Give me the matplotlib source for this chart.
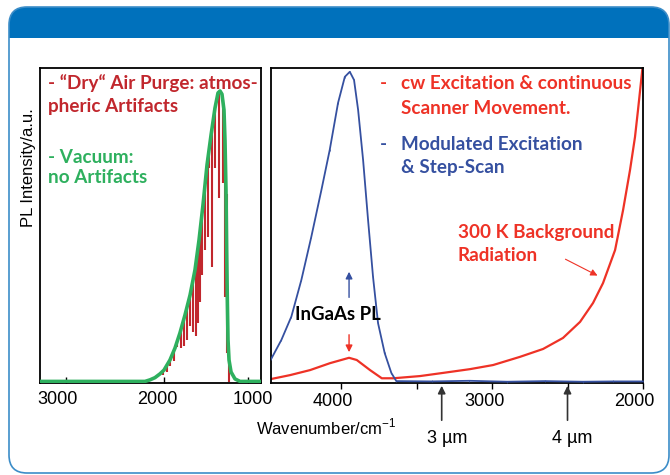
import numpy as np
import matplotlib
matplotlib.use("Agg")
import matplotlib.pyplot as plt
from matplotlib.patches import FancyBboxPatch, Rectangle
from matplotlib.transforms import IdentityTransform, ScaledTranslation

# ---- left panel: dry-air purge vs vacuum (wavenumber in cm-1) ----
vac_wn = [3265, 2194, 2143, 2092, 2041, 2000, 1929, 1869, 1810, 1750, 1690, 1631,
          1583, 1536, 1488, 1440, 1393, 1357, 1333, 1310, 1286, 1274, 1262, 1254,
          1246, 1238, 1226, 1202, 1155, 1095, 845]
vac_int = [0.005, 0.005, 0.010, 0.017, 0.029, 0.041, 0.073, 0.111, 0.159, 0.216,
           0.279, 0.359, 0.454, 0.565, 0.692, 0.787, 0.873, 0.921, 0.927, 0.917,
           0.867, 0.771, 0.613, 0.422, 0.263, 0.137, 0.073, 0.035, 0.013, 0.005, 0.005]

# absorption lines of the purged spectrum: position, top, bottom
air_wn = [2010, 1964, 1929, 1881, 1845, 1798, 1762, 1726, 1690, 1655, 1619, 1595,
          1571, 1548, 1512, 1476, 1464, 1429, 1393, 1345, 1298, 1274, 1250, 1226]
air_top = [0.038, 0.054, 0.073, 0.098, 0.130, 0.171, 0.203, 0.241, 0.279, 0.324,
           0.378, 0.416, 0.479, 0.533, 0.629, 0.717, 0.733, 0.810, 0.873, 0.924,
           0.898, 0.771, 0.600, 0.073]
air_bot = [0.025, 0.035, 0.054, 0.070, 0.114, 0.111, 0.117, 0.137, 0.181, 0.162,
           0.149, 0.190, 0.257, 0.343, 0.422, 0.463, 0.683, 0.368, 0.683, 0.587,
           0.635, 0.273, 0.095, 0.003]

# ---- right panel: step-scan (blue) vs continuous scan (red) ----
step_wn = [4472, 4395, 4329, 4263, 4197, 4130, 4075, 4020, 3975, 3942, 3914, 3887,
           3854, 3821, 3788, 3755, 3711, 3667, 3634, 3400, 3150, 2900, 2650, 2400,
           2200, 2000]
step_int = [0.068, 0.137, 0.211, 0.327, 0.464, 0.613, 0.740, 0.889, 0.972, 0.988,
            0.962, 0.867, 0.708, 0.517, 0.336, 0.190, 0.095, 0.032, 0.006, 0.005,
            0.007, 0.004, 0.006, 0.004, 0.005, 0.005]

cw_wn = [4470, 4338, 4205, 4073, 3947, 3896, 3808, 3730, 3654, 3477, 3325, 3146,
         2993, 2815, 2662, 2530, 2417, 2331, 2265, 2185, 2132, 2086, 2053, 2033,
         2007, 2000]
cw_int = [0.012, 0.025, 0.041, 0.063, 0.080, 0.073, 0.041, 0.015, 0.015, 0.022,
          0.032, 0.044, 0.057, 0.083, 0.108, 0.143, 0.194, 0.254, 0.317, 0.422,
          0.549, 0.676, 0.781, 0.867, 0.984, 1.02]

left_ticks = [3000, 2000, 1000]
right_ticks = [4000, 3000, 2000]
right_minor = [3500, 2500]
micron_marks = [3, 4]  # µm

BLUE_HDR = "#0071BC"
DKRED = "#C1272D"
GREEN = "#2EB05E"
RED = "#EE3226"
BLUE = "#3550A0"

plt.rcParams["font.family"] = ["Liberation Sans", "DejaVu Sans"]
plt.rcParams["mathtext.fontset"] = "custom"
plt.rcParams["mathtext.rm"] = "Liberation Sans"
bold = dict(family=["Lato", "DejaVu Sans"], fontweight="bold", fontsize=13.6)

fig = plt.figure(figsize=(6.7, 4.75), dpi=100)

# ---- frame with blue header ----
px = IdentityTransform()
fig.add_artist(FancyBboxPatch((9, 415), 660, 53, boxstyle="round,pad=0,rounding_size=18",
                              fc=BLUE_HDR, ec="none", transform=px, zorder=-3))
fig.add_artist(Rectangle((9, 413), 661, 24, fc="white", ec="none", transform=px, zorder=-2))
fig.add_artist(FancyBboxPatch((9, 2), 660, 466, boxstyle="round,pad=0,rounding_size=18",
                              fc="none", ec="#3C8DC8", lw=1.2, transform=px, zorder=-1))

# left wavenumber axis is slightly non-uniform in the source figure
anc_wn = [845, 1000, 2000, 3000, 3265]
anc_pos = [0, 13, 97, 195, 221]
fwd = lambda w: np.interp(np.asarray(w, float), anc_wn, anc_pos)
inv = lambda p: np.interp(np.asarray(p, float), anc_pos, anc_wn)

axL = fig.add_axes([40 / 670, 92 / 475, 221 / 670, 315 / 475])
axL.set_xscale("function", functions=(fwd, inv))
axL.vlines(air_wn, air_bot, air_top, color=DKRED, lw=1.5, zorder=2)
axL.plot(vac_wn, vac_int, color=GREEN, lw=2.6, zorder=3, solid_capstyle="round")
axL.set_xlim(3265, 845)
axL.set_ylim(0, 1)
axL.set_xticks(left_ticks)
axL.set_xticklabels([str(t) for t in left_ticks])
axL.xaxis.set_minor_locator(matplotlib.ticker.NullLocator())
axL.tick_params(axis="x", direction="in", length=4, width=1, pad=6, labelsize=13)
axL.set_yticks([])
axL.text(0.036, 0.952, "- “Dry“ Air Purge: atmos-", color=DKRED, transform=axL.transAxes,
         va="center", **bold)
axL.text(0.036, 0.879, "pheric Artifacts", color=DKRED, transform=axL.transAxes,
         va="center", **bold)
axL.text(0.036, 0.717, "- Vacuum:", color=GREEN, transform=axL.transAxes, va="center", **bold)
axL.text(0.036, 0.651, "no Artifacts", color=GREEN, transform=axL.transAxes, va="center", **bold)

axR = fig.add_axes([270.7 / 670, 92 / 475, 372.3 / 670, 315 / 475])
axR.plot(step_wn, step_int, color=BLUE, lw=1.3, marker="|", ms=1.5, mew=0.5, zorder=3)
axR.plot(cw_wn, cw_int, color=RED, lw=1.6, zorder=2)
axR.set_xlim(4466, 2000)
axR.set_ylim(0, 1)
axR.set_xticks(right_ticks)
axR.set_xticks(right_minor, minor=True)
axR.tick_params(axis="x", which="both", direction="out", length=4, width=1, pad=3,
                labelsize=13)
axR.set_yticks([])

for ax in (axL, axR):
    for s in ax.spines.values():
        s.set_linewidth(1.3)

# in the source the tick labels sit a little off their ticks
for ax, shifts in ((axL, [-8, -7, 5]), (axR, [-8, -7, -9])):
    for lab, dx in zip(ax.get_xticklabels(), shifts):
        lab.set_transform(lab.get_transform() + ScaledTranslation(dx / 100, 0, fig.dpi_scale_trans))

tr = axR.transAxes
axR.text(0.294, 0.952, "-", color=RED, transform=tr, va="center", **bold)
axR.text(0.350, 0.952, "cw Excitation & continuous", color=RED, transform=tr, va="center", **bold)
axR.text(0.350, 0.873, "Scanner Movement.", color=RED, transform=tr, va="center", **bold)
axR.text(0.294, 0.756, "-", color=BLUE, transform=tr, va="center", **bold)
axR.text(0.350, 0.756, "Modulated Excitation", color=BLUE, transform=tr, va="center", **bold)
axR.text(0.350, 0.683, "& Step-Scan", color=BLUE, transform=tr, va="center", **bold)
axR.text(0.503, 0.479, "300 K Background", color=RED, transform=tr, va="center", **bold)
axR.text(0.503, 0.406, "Radiation", color=RED, transform=tr, va="center", **bold)

axR.text(4020, 0.216, "InGaAs PL", color="black", ha="center", va="center",
         **{**bold, "fontsize": 13.4})
axR.annotate("", xy=(3947, 0.362), xytext=(3947, 0.263),
             arrowprops=dict(arrowstyle="-|>", color=BLUE, lw=1, mutation_scale=10))
axR.annotate("", xy=(3947, 0.089), xytext=(3947, 0.162),
             arrowprops=dict(arrowstyle="-|>", color=RED, lw=1, mutation_scale=10))
axR.annotate("", xy=(2285, 0.337), xytext=(2530, 0.397),
             arrowprops=dict(arrowstyle="-|>", color=RED, lw=0.8, mutation_scale=10))

for um in micron_marks:
    wn = 1e4 / um
    axR.annotate("", xy=(wn, 0), xycoords=("data", "axes fraction"),
                 xytext=(wn, -0.127), textcoords=("data", "axes fraction"),
                 arrowprops=dict(arrowstyle="-|>", color="#333333", lw=1.2, mutation_scale=11),
                 annotation_clip=False)
    lab = axR.text(wn, -0.175, f"{um} µm", transform=axR.get_xaxis_transform(), ha="center",
                   va="center", fontsize=13, clip_on=False)
    lab.set_transform(lab.get_transform() + ScaledTranslation(0.05, 0, fig.dpi_scale_trans))

fig.text(326 / 670, 1 - 427 / 475, "Wavenumber/cm$^{-1}$", ha="center", va="center", fontsize=12)
fig.text(28 / 670, 1 - 168 / 475, "PL Intensity/a.u.", rotation=90, ha="center", va="center",
         fontsize=12)

fig.savefig("out.png", dpi=100)
